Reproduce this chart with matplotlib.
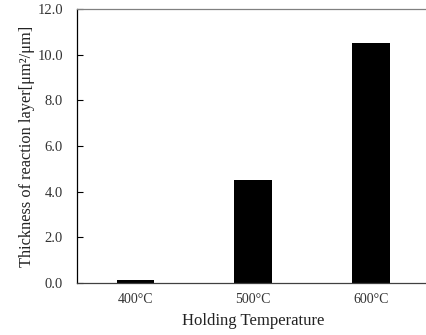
import matplotlib
matplotlib.use("Agg")
import matplotlib.pyplot as plt

categories = ["400\u00b0C", "500\u00b0C", "600\u00b0C"]
thickness = [0.15, 4.5, 10.5]
y_ticks = [0.0, 2.0, 4.0, 6.0, 8.0, 10.0, 12.0]

plt.rcParams["font.family"] = ["Liberation Serif", "DejaVu Serif"]

fig = plt.figure(figsize=(4.27, 3.35), dpi=100)
# right edge sits just past the image, so the right spine is not seen
ax = fig.add_axes([0.180, 0.155, 0.826, 0.818])

ax.bar(range(len(categories)), thickness, width=0.32, color="black")

ax.set_xlim(-0.5, len(categories) - 0.5)
ax.set_ylim(0, 12)
ax.set_yticks(y_ticks)
ax.set_yticklabels([f"{t:.1f}" for t in y_ticks], fontsize=10.5, color="#333333")
ax.set_xticks(range(len(categories)))
ax.set_xticklabels(categories, fontsize=10, color="#333333")

ax.tick_params(axis="y", direction="in", length=4, width=0.8, pad=10)
ax.tick_params(axis="x", length=0, pad=7)

ax.spines["top"].set_color("#808080")
ax.spines["bottom"].set_color("#404040")
for spine in ax.spines.values():
    spine.set_linewidth(0.9)

ax.set_xlabel("Holding Temperature", fontsize=12, labelpad=5, color="#222222")
ax.set_ylabel("Thickness of reaction layer[\u03bcm\u00b2/\u03bcm]", fontsize=11.8,
              labelpad=2, color="#222222")

fig.savefig("out.png", dpi=100)
